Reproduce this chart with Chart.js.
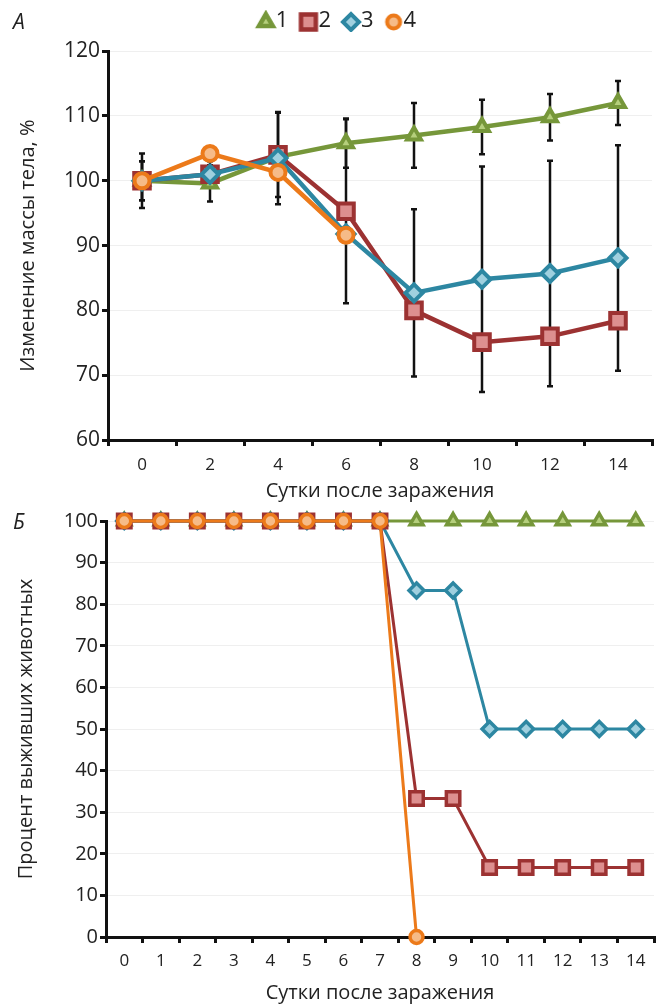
<!DOCTYPE html>
<html><head><meta charset="utf-8">
<script src="https://cdn.jsdelivr.net/npm/chart.js@4.4.1/dist/chart.umd.min.js"></script>
<style>
html,body{margin:0;padding:0;background:#fff;}
#wrap{position:relative;width:667px;height:1005px;overflow:hidden;background:#fff;}
canvas{position:absolute;left:0;}
#c1{top:0}
#c2{top:500px}
.lbl{position:absolute;font-family:"Open Sans",sans-serif;font-style:italic;font-size:21px;color:#222;line-height:1;}
</style></head><body>
<div id="wrap">
<canvas id="c1" width="667" height="505"></canvas>
<canvas id="c2" width="667" height="505"></canvas>
<div class="lbl" style="left:13px;top:11px">А</div>
<div class="lbl" style="left:13px;top:511px">Б</div>
</div>
<script>
// ---- Panel A: body mass change, % ----
const massDays = ['0','2','4','6','8','10','12','14'];
const mass1 = [100, 99.6, 103.7, 105.8, 107.0, 108.3, 109.8, 112.0];
const mass2 = [100, 101.0, 104.0, 95.3, 80.0, 75.1, 76.0, 78.4];
const mass3 = [100, 101.0, 103.5, 91.8, 82.7, 84.8, 85.7, 88.1];
const mass4 = [100, 104.2, 101.3, 91.6, null, null, null, null];
const err1 = [4.2, 2.8, null, 3.8, 5.0, 4.2, 3.6, 3.4];
const err2 = [3.0, null, 6.5, 14.2, null, null, null, null];
const err3 = [3.0, 2.0, 7.1, null, 12.9, 17.4, 17.4, 17.4];
const err4 = [null, null, null, null, null, null, null, null];
const massTicks = [60, 70, 80, 90, 100, 110, 120];

// ---- Panel B: survival, % ----
const survDays = ['0','1','2','3','4','5','6','7','8','9','10','11','12','13','14'];
const surv1 = [100,100,100,100,100,100,100,100,100,100,100,100,100,100,100];
const surv2 = [100,100,100,100,100,100,100,100,33.3,33.3,16.7,16.7,16.7,16.7,16.7];
const surv3 = [100,100,100,100,100,100,100,100,83.3,83.3,50,50,50,50,50];
const surv4 = [100,100,100,100,100,100,100,100,0,null,null,null,null,null,null];
const seriesNames = ['1','2','3','4'];

const C = {
  green:'#76973a', greenFill:'#b5cf7c',
  red:'#9c3232', redFill:'#dd8f8f',
  blue:'#2d87a2', blueFill:'#9fd0df',
  orange:'#ec7a1a', orangeFill:'#f6bb88'
};
Chart.defaults.font.family = '"Open Sans", sans-serif';
Chart.defaults.color = '#222';

function mk(label, data, color, fill, style, radius, bw, pbw, errors, order) {
  return {label, data, borderColor: color, backgroundColor: fill,
    pointStyle: style, pointRadius: radius, pointHoverRadius: radius,
    pointBorderWidth: pbw, pointBackgroundColor: fill, pointBorderColor: color,
    borderWidth: bw, errors, order, tension: 0, clip: false};
}

// legend marker images drawn with Chart.js's own point renderer
// (marker drawn right of the image centre so it sits close to its label)
function markerImage(style, radius, color, fill, bw) {
  const cv = document.createElement('canvas');
  cv.width = 38; cv.height = 22;
  const ctx = cv.getContext('2d');
  ctx.fillStyle = fill; ctx.strokeStyle = color; ctx.lineWidth = bw;
  Chart.helpers.drawPoint(ctx, { pointStyle: style, radius, borderWidth: bw, rotation: 0 }, 27, 12);
  return cv;
}
const legendMarks = [
  markerImage('triangle', 8, C.green, C.greenFill, 4.5),
  markerImage('rect', 10.5, C.red, C.redFill, 4.5),
  markerImage('rectRot', 8, C.blue, C.blueFill, 4),
  markerImage('circle', 6.5, C.orange, C.orangeFill, 4)
];

const errorBars = {
  id: 'errorBars',
  beforeDatasetsDraw(chart) {
    const {ctx} = chart; const ys = chart.scales.y;
    chart.data.datasets.forEach((ds, i) => {
      if (!ds.errors) return;
      const meta = chart.getDatasetMeta(i);
      ds.errors.forEach((e, j) => {
        if (e == null || ds.data[j] == null) return;
        const x = meta.data[j].x;
        const yt = ys.getPixelForValue(ds.data[j] + e);
        const yb = ys.getPixelForValue(ds.data[j] - e);
        ctx.save();
        ctx.strokeStyle = '#111'; ctx.lineWidth = 2.5;
        ctx.beginPath();
        ctx.moveTo(x, yt); ctx.lineTo(x, yb);
        ctx.moveTo(x - 3, yt); ctx.lineTo(x + 3, yt);
        ctx.moveTo(x - 3, yb); ctx.lineTo(x + 3, yb);
        ctx.stroke();
        ctx.restore();
      });
    });
  }
};

new Chart(document.getElementById('c1'), {
  type: 'line',
  data: { labels: massDays, datasets: [
    mk(seriesNames[0], mass1, C.green, C.greenFill, 'triangle', 8, 4.5, 4, err1, 4),
    mk(seriesNames[1], mass2, C.red, C.redFill, 'rect', 11, 4.5, 4, err2, 3),
    mk(seriesNames[2], mass3, C.blue, C.blueFill, 'rectRot', 8.5, 4.5, 4, err3, 2),
    mk(seriesNames[3], mass4, C.orange, C.orangeFill, 'circle', 7.5, 4.5, 4, err4, 1)
  ]},
  options: {
    responsive: false, animation: false,
    layout: { padding: { top: 5, left: 0, right: 0, bottom: 0 } },
    plugins: {
      legend: { display: true, position: 'top', weight: 3000,
        labels: { usePointStyle: true, boxWidth: 14, boxHeight: 14, font: { size: 22 }, color: '#222', padding: 5,
          sort: (a, b) => a.datasetIndex - b.datasetIndex,
          generateLabels(chart) {
            const items = Chart.defaults.plugins.legend.labels.generateLabels(chart);
            items.forEach(it => { it.pointStyle = legendMarks[it.datasetIndex]; });
            return items;
          } } },
      title: { display: true, text: '', font: { size: 1 }, padding: { top: 0, bottom: 8 } },
      tooltip: { enabled: false }
    },
    scales: {
      x: { type: 'category', offset: true,
        grid: { offset: true, drawOnChartArea: false, color: '#111', tickLength: 6, tickWidth: 3, lineWidth: 3 },
        border: { color: '#111', width: 3 },
        ticks: { font: { size: 17 }, color: '#222', padding: 9, maxRotation: 0 },
        title: { display: true, text: 'Сутки после заражения', font: { size: 20 }, color: '#222', padding: { top: 0, bottom: 2 } },
        afterFit(s) { s.height = 65; } },
      y: { min: 60, max: 120,
        afterBuildTicks(s) { s.ticks = massTicks.map(v => ({ value: v })); },
        ticks: { font: { size: 21 }, color: '#222', padding: 2 },
        grid: { color: '#efefef', lineWidth: 1, tickColor: '#111', tickLength: 6, tickWidth: 3 },
        border: { color: '#111', width: 3 },
        title: { display: true, text: 'Изменение массы тела, %', font: { size: 20 }, color: '#222', padding: { top: 16 } },
        afterFit(s) { s.width = 108; } }
    }
  },
  plugins: [errorBars]
});

new Chart(document.getElementById('c2'), {
  type: 'line',
  data: { labels: survDays, datasets: [
    mk(seriesNames[0], surv1, C.green, C.greenFill, 'triangle', 7.5, 3, 3.5, null, 4),
    mk(seriesNames[1], surv2, C.red, C.redFill, 'rect', 9.5, 3, 3.5, null, 2),
    mk(seriesNames[2], surv3, C.blue, C.blueFill, 'rectRot', 7.5, 3, 3.5, null, 3),
    mk(seriesNames[3], surv4, C.orange, C.orangeFill, 'circle', 6.5, 3, 3.5, null, 1)
  ]},
  options: {
    responsive: false, animation: false,
    layout: { padding: { top: 21, left: 0, right: 0, bottom: 0 } },
    plugins: { legend: { display: false }, title: { display: false }, tooltip: { enabled: false } },
    scales: {
      x: { type: 'category', offset: true,
        grid: { offset: true, drawOnChartArea: false, color: '#111', tickLength: 6, tickWidth: 3, lineWidth: 3 },
        border: { color: '#111', width: 3 },
        ticks: { font: { size: 17 }, color: '#222', padding: 8, maxRotation: 0, autoSkip: false },
        title: { display: true, text: 'Сутки после заражения', font: { size: 20 }, color: '#222', padding: { top: 0, bottom: 0 } },
        afterFit(s) { s.height = 68; } },
      y: { min: 0, max: 100,
        ticks: { stepSize: 10, font: { size: 20 }, color: '#222', padding: 2 },
        grid: { color: '#efefef', lineWidth: 1, tickColor: '#111', tickLength: 6, tickWidth: 3 },
        border: { color: '#111', width: 3 },
        title: { display: true, text: 'Процент выживших животных', font: { size: 20 }, color: '#222', padding: { top: 14 } },
        afterFit(s) { s.width = 106; } }
    }
  }
});
</script>
</body></html>
